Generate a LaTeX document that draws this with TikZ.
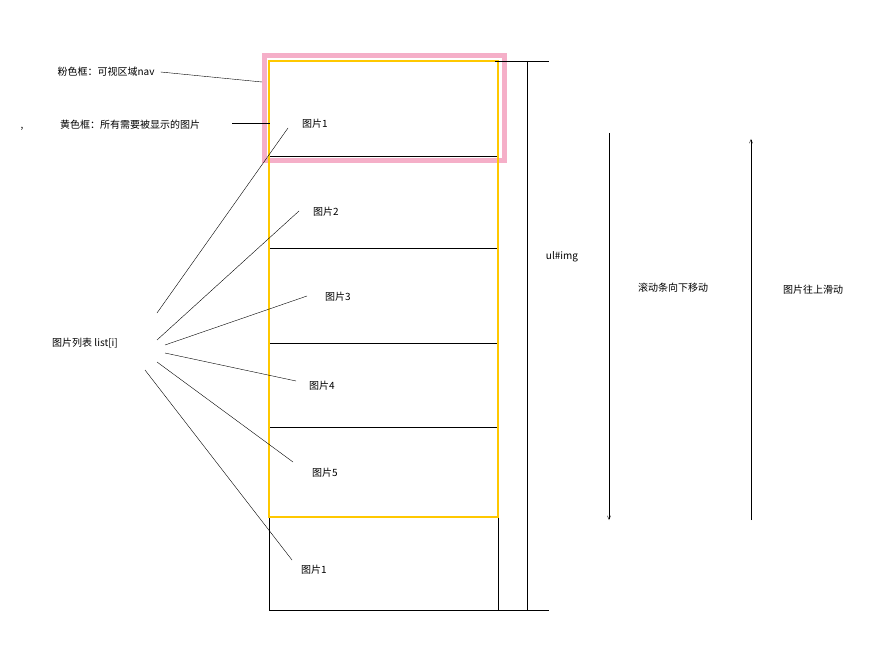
\documentclass[tikz,border=0pt]{standalone}
\usepackage{fontspec}
\setmainfont{Noto Sans CJK SC}
\usetikzlibrary{arrows}
\definecolor{navpink}{RGB}{245,175,200}
\definecolor{imgyellow}{RGB}{255,200,0}
\tikzset{lbl/.style={font=\fontsize{10}{12}\selectfont, inner sep=1pt}}
\begin{document}
\begin{tikzpicture}[x=1pt,y=-1pt]
	\useasboundingbox (0,0) rectangle (873,650);

	% boxes
	\draw[navpink, line width=5pt] (264,56) rectangle (504,161);
	\draw (269,161) -- (269,610) -- (498,610) -- (498,517);
	\foreach \yy in {156,248,343,427}
		\draw (269,\yy) -- (498,\yy);
	\draw[imgyellow, line width=2.5pt] (269,61) rectangle (498,517);

	% ul bracket
	\draw (527,61) -- (527,610);
	\draw (495,61) -- (549,61);
	\draw (498,610) -- (549,610);
	\node[lbl] (ul) at (562,257) {ul\#img};

	% scroll arrows
	\coordinate (dtop) at (609,133);
	\coordinate (dbot) at (609,520);
	\draw[-angle 45] (dtop) -- (dbot);
	\node[lbl] (down) at (673,288) {滚动条向下移动};
	\coordinate (ubot) at (751,520);
	\coordinate (utop) at (751,139);
	\draw[-angle 45] (ubot) -- (utop);
	\node[lbl] (up) at (813,290) {图片往上滑动};

	% labels left
	\node[lbl] (nav) at (106,72) {粉色框：可视区域nav};
	\coordinate (navend) at (262,82);
	\draw (nav.east) ++(5,0) -- (navend);
	\node[lbl] (yel) at (130,125) {黄色框：所有需要被显示的图片};
	\node[lbl] at (22,129) {,};
	\coordinate (yelend) at (270,123);
	\draw (232,123) -- (yelend);

	% pictures
	\node[lbl] (p1) at (315,124) {图片1};
	\node[lbl] (p2) at (326,212) {图片2};
	\node[lbl] (p3) at (338,297) {图片3};
	\node[lbl] (p4) at (322,386) {图片4};
	\node[lbl] (p5) at (325,473) {图片5};
	\node[lbl] (p6) at (314,570) {图片1};

	\node[lbl] (list) at (85,343) {图片列表 list[i]};
	\draw (157,313) -- (288,128);
	\draw (157,340) -- (299,211);
	\draw (165,345) -- (307,296);
	\draw (165,353) -- (296,381);
	\draw (157,362) -- (293,462);
	\draw (145,370) -- (292,560);
\end{tikzpicture}
\end{document}
